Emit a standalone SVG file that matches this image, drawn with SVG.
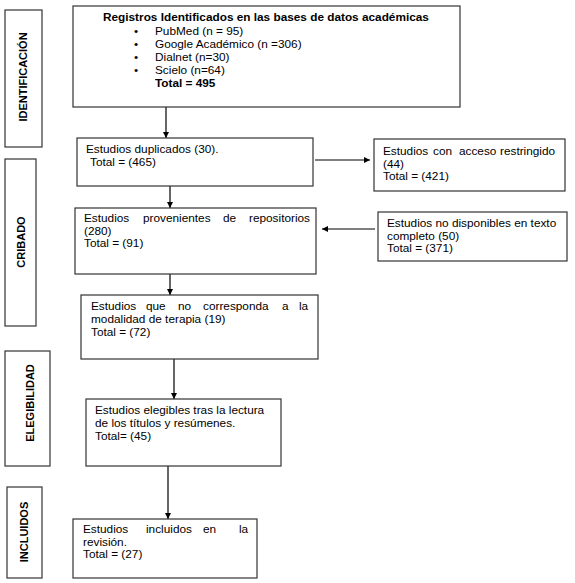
<svg xmlns="http://www.w3.org/2000/svg" width="575" height="583" viewBox="0 0 575 583">
<defs>
<marker id="ah" viewBox="0 0 10 10" refX="10" refY="5" markerWidth="6" markerHeight="6" markerUnits="userSpaceOnUse" orient="auto">
<path d="M0,0 L10,5 L0,10 z" fill="#000"/>
</marker>
<style>
.box{fill:#fff;stroke:#333;stroke-width:1.2}
.t{font-family:"Liberation Sans",Arial,sans-serif;font-size:11.8px;fill:#000}
.b{font-family:"Liberation Sans",Arial,sans-serif;font-size:11.8px;font-weight:bold;fill:#000}
.lab{font-family:"Liberation Sans",Arial,sans-serif;font-size:11px;font-weight:bold;fill:#000;text-anchor:middle}
.c{fill:none;stroke:#000;stroke-width:1.2;marker-end:url(#ah)}
</style>
</defs>
<rect width="575" height="583" fill="#fff"/>
<g id="phase-identificacion">
<rect class="box" x="5" y="10" width="37" height="137"/>
<text class="lab" transform="translate(27,77) rotate(-90)">IDENTIFICACIÓN</text>
</g>
<g id="phase-cribado">
<rect class="box" x="5" y="159" width="31" height="167"/>
<text class="lab" transform="translate(25,242) rotate(-90)">CRIBADO</text>
</g>
<g id="phase-elegibilidad">
<rect class="box" x="5" y="351" width="45" height="115"/>
<text class="lab" transform="translate(34,403) rotate(-90)">ELEGIBILIDAD</text>
</g>
<g id="phase-incluidos">
<rect class="box" x="7" y="487" width="35" height="91"/>
<text class="lab" transform="translate(28,532) rotate(-90)">INCLUIDOS</text>
</g>
<g id="connectors">
<path class="c" d="M166,107 V138"/>
<path class="c" d="M170,186 V208"/>
<path class="c" d="M170,274 V295"/>
<path class="c" d="M174,359 V399"/>
<path class="c" d="M168,466 V519"/>
<path class="c" d="M315,160 H370"/>
<path class="c" d="M375,229 H322"/>
</g>
<g id="registros">
<rect class="box" x="73" y="6" width="387" height="101"/>
<text class="b" x="103" y="21">Registros Identificados en las bases de datos académicas</text>
<text class="t"><tspan x="134" y="35">•</tspan><tspan x="155" y="35">PubMed (n = 95)</tspan></text>
<text class="t"><tspan x="134" y="48">•</tspan><tspan x="155" y="48">Google Académico (n =306)</tspan></text>
<text class="t"><tspan x="134" y="61">•</tspan><tspan x="155" y="61">Dialnet (n=30)</tspan></text>
<text class="t"><tspan x="134" y="74">•</tspan><tspan x="155" y="74">Scielo (n=64)</tspan></text>
<text class="b" x="155" y="87">Total = 495</text>
</g>
<g id="duplicados">
<rect class="box" x="77" y="138" width="236" height="48"/>
<text class="t" x="86" y="153">Estudios duplicados (30).</text>
<text class="t" x="90" y="166">Total = (465)</text>
</g>
<g id="repositorios">
<rect class="box" x="75" y="208" width="241" height="66"/>
<text class="t" y="222"><tspan x="84">Estudios</tspan><tspan x="143">provenientes</tspan><tspan x="223">de</tspan><tspan x="249">repositorios</tspan></text>
<text class="t" x="84" y="234.5">(280)</text>
<text class="t" x="84" y="247">Total = (91)</text>
</g>
<g id="restringido">
<rect class="box" x="374" y="139" width="191" height="52"/>
<text class="t" y="155"><tspan x="383">Estudios</tspan><tspan x="433">con</tspan><tspan x="459">acceso</tspan><tspan x="500">restringido</tspan></text>
<text class="t" x="383" y="167.5">(44)</text>
<text class="t" x="383" y="180">Total = (421)</text>
</g>
<g id="no-disponibles">
<rect class="box" x="378" y="212" width="189" height="49"/>
<text class="t" x="387" y="227">Estudios no disponibles en texto</text>
<text class="t" x="387" y="239.5">completo (50)</text>
<text class="t" x="387" y="252">Total = (371)</text>
</g>
<g id="modalidad">
<rect class="box" x="81" y="295" width="237" height="64"/>
<text class="t" y="310"><tspan x="91">Estudios</tspan><tspan x="146">que</tspan><tspan x="178">no</tspan><tspan x="203">corresponda</tspan><tspan x="282">a</tspan><tspan x="299">la</tspan></text>
<text class="t" x="91" y="323">modalidad de terapia (19)</text>
<text class="t" x="91" y="336">Total = (72)</text>
</g>
<g id="elegibles">
<rect class="box" x="86" y="399" width="195" height="67"/>
<text class="t" x="95" y="414">Estudios elegibles tras la lectura</text>
<text class="t" x="95" y="427">de los títulos y resúmenes.</text>
<text class="t" x="95" y="440">Total= (45)</text>
</g>
<g id="incluidos">
<rect class="box" x="73" y="519" width="184" height="59"/>
<text class="t" y="533"><tspan x="83">Estudios</tspan><tspan x="146">incluidos</tspan><tspan x="203">en</tspan><tspan x="239">la</tspan></text>
<text class="t" x="83" y="545.5">revisión.</text>
<text class="t" x="83" y="558">Total = (27)</text>
</g>
</svg>
